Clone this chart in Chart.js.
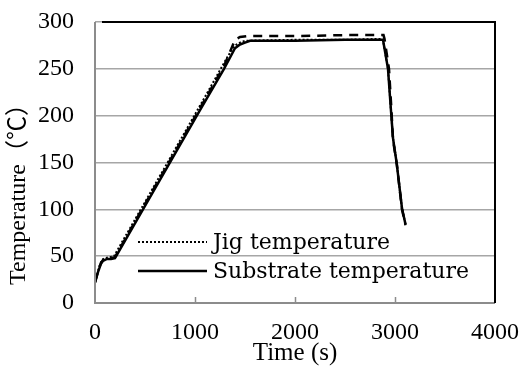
<!DOCTYPE html>
<html>
<head>
<meta charset="utf-8">
<script src="https://cdn.jsdelivr.net/npm/chart.js@4/dist/chart.umd.min.js"></script>
<style>
html,body{margin:0;padding:0;background:#fff;}
#wrap{width:524px;height:374px;position:relative;}
</style>
</head>
<body>
<div id="wrap"><canvas id="c"></canvas></div>
<script>
// ---- data (time in s, temperature in °C) ----
const jigTime = [0, 40, 70, 100, 150, 190, 480, 1020, 1300, 1360, 1400, 1450, 1500, 2000, 2500, 2870, 2880, 2930, 2960, 2980, 3017, 3070, 3105];
const jigTemp = [22, 38, 46, 48, 49, 50, 104, 205, 258, 269, 275, 278, 280, 281, 281, 282, 281, 250, 205, 176, 149, 101, 84];

const subTime = [0, 30, 60, 80, 120, 160, 200, 480, 1050, 1290, 1360, 1400, 1450, 1500, 1550, 2000, 2500, 2870, 2880, 2930, 2960, 2980, 3017, 3070, 3105];
const subTemp = [22, 33, 42, 45, 47, 47, 48, 100, 206, 250, 264, 272, 276, 278, 280, 280, 281, 281, 281, 250, 205, 176, 149, 101, 84];

const refTime = [0, 30, 60, 80, 120, 160, 200, 480, 1050, 1290, 1350, 1400, 1450, 1520, 2000, 2500, 2885, 2895, 2940, 2965, 2980, 3017, 3070, 3105];
const refTemp = [22, 34, 43, 46, 48, 48, 49, 102, 208, 253, 268, 281, 284, 285, 285, 286, 286, 282, 250, 205, 174, 149, 100, 83];

const xTicks = [0, 1000, 2000, 3000, 4000];
const yTicks = [0, 50, 100, 150, 200, 250, 300];

const seriesLabels = ['Jig temperature', 'Substrate temperature'];

const SERIF = '"Liberation Serif", "Times New Roman", Times, "Noto Sans CJK JP", serif';

function pts(t, v){ return t.map((x,i)=>({x:x, y:v[i]})); }

const frame = {
  id: 'frame',
  afterDatasetsDraw(chart){
    const {ctx, chartArea:a, scales} = chart;
    ctx.save();
    ctx.strokeStyle = '#8c8c8c';
    ctx.lineWidth = 2;
    ctx.beginPath();
    ctx.moveTo(a.left, a.top); ctx.lineTo(a.left, a.bottom); ctx.lineTo(a.right, a.bottom);
    ctx.stroke();
    ctx.lineWidth = 1.5;
    ctx.beginPath();
    xTicks.slice(1, -1).forEach(v=>{
      const px = Math.round(scales.x.getPixelForValue(v)) + 0.5;
      ctx.moveTo(px, a.bottom); ctx.lineTo(px, a.bottom - 6);
    });
    ctx.stroke();
    ctx.strokeStyle = '#000';
    ctx.lineWidth = 2;
    ctx.beginPath();
    ctx.moveTo(a.left + 7, a.top); ctx.lineTo(a.right, a.top); ctx.lineTo(a.right, a.bottom);
    ctx.stroke();
    const ds = chart.data.datasets;
    const rows = [{y: 242, d: ds[0]}, {y: 271, d: ds[1]}];
    ctx.font = '22px "DejaVu Serif", serif';
    ctx.fillStyle = '#000';
    ctx.textBaseline = 'middle';
    rows.forEach(r=>{
      ctx.strokeStyle = '#000';
      ctx.lineWidth = r.d.borderWidth;
      ctx.setLineDash(r.d.borderDash || []);
      ctx.beginPath();
      ctx.moveTo(138, r.y); ctx.lineTo(207, r.y);
      ctx.stroke();
      ctx.setLineDash([]);
      ctx.fillText(r.d.label, 213, r.y + 1);
    });
    ctx.restore();
  }
};

function build(){
new Chart(document.getElementById('c'), {
  type: 'scatter',
  data: {
    datasets: [
      {label: seriesLabels[0], data: pts(jigTime, jigTemp), showLine: true, borderColor: '#000', borderWidth: 2, borderDash: [2, 2], pointRadius: 0, tension: 0},
      {label: seriesLabels[1], data: pts(subTime, subTemp), showLine: true, borderColor: '#000', borderWidth: 2.5, pointRadius: 0, tension: 0},
      {label: '', data: pts(refTime, refTemp), showLine: true, borderColor: '#000', borderWidth: 2.5, borderDash: [9, 7], pointRadius: 0, tension: 0}
    ]
  },
  options: {
    responsive: true,
    maintainAspectRatio: false,
    animation: false,
    devicePixelRatio: 1,
    layout: {padding: {top: 22, right: 29, left: 4, bottom: 0}},
    plugins: {legend: {display: false}, tooltip: {enabled: false}},
    scales: {
      x: {
        type: 'linear', min: 0, max: 4000,
        afterBuildTicks(s){ s.ticks = xTicks.map(v=>({value:v})); },
        afterFit(s){ s.height = 71; s.paddingLeft = 0; s.paddingRight = 0; },
        grid: {display: false},
        border: {display: false},
        ticks: {color: '#000', padding: 7, maxRotation: 0, callback: v => String(v), font: {family: SERIF, size: 24}},
        title: {display: true, text: 'Time (s)', color: '#000', padding: {top: 0, bottom: 6}, font: {family: SERIF, size: 25}}
      },
      y: {
        min: 0, max: 300,
        afterBuildTicks(s){ s.ticks = yTicks.map(v=>({value:v})); },
        afterFit(s){ s.width = 91; s.paddingTop = 0; s.paddingBottom = 0; },
        grid: {color: '#a6a6a6', lineWidth: 1.5, drawTicks: false},
        border: {display: false},
        ticks: {color: '#000', padding: 21, callback: v => String(v), font: {family: SERIF, size: 24}},
        title: {display: true, align: 'start', text: '   Temperature（℃）', color: '#000', padding: {top: 0, bottom: 0}, font: {family: SERIF, size: 24}}
      }
    }
  },
  plugins: [frame]
});
}
Promise.all([
  document.fonts.load('24px "Liberation Serif"'),
  document.fonts.load('24px "Noto Sans CJK JP"', '（℃）'),
  document.fonts.load('20px "DejaVu Serif"')
]).then(build, build);
</script>
</body>
</html>
